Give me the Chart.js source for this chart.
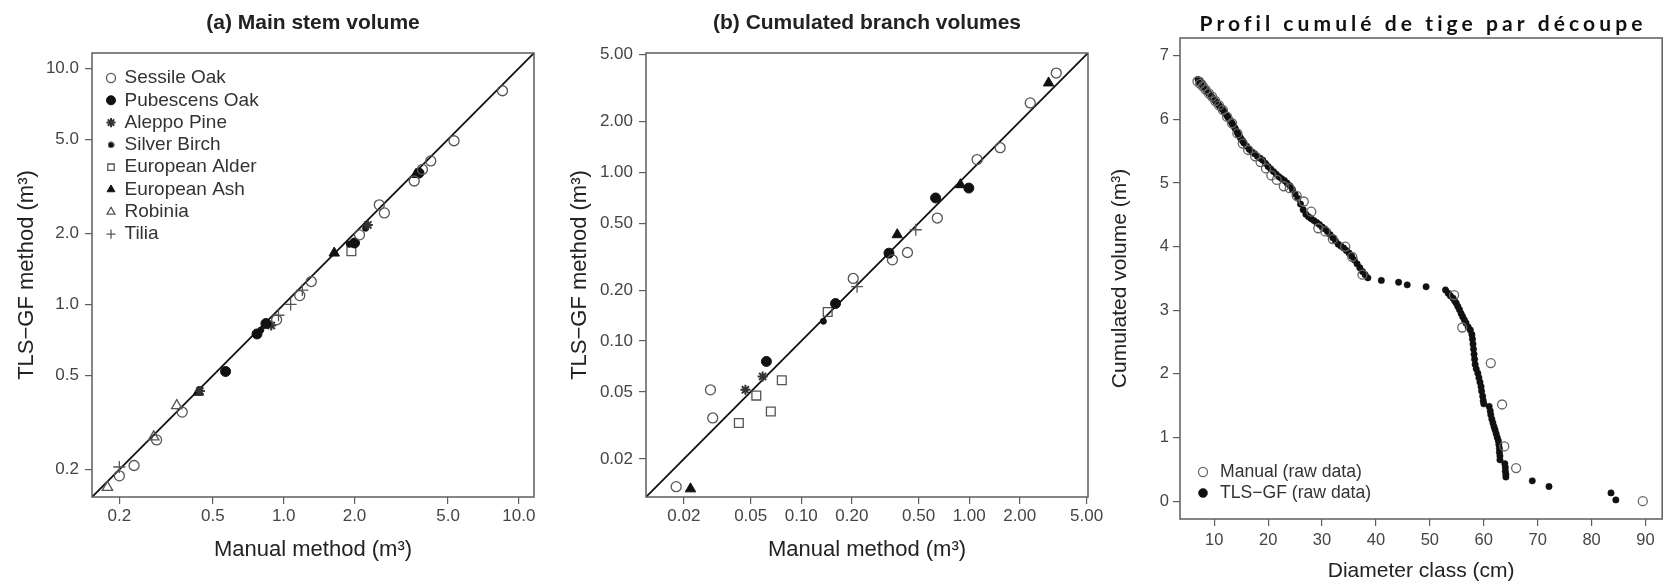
<!DOCTYPE html>
<html>
<head>
<meta charset="utf-8">
<script src="https://cdn.jsdelivr.net/npm/chart.js@4.4.1/dist/chart.umd.min.js"></script>
<style>
  body { margin: 0; background: #fff; width: 1668px; height: 585px; overflow: hidden; position: relative; }
  canvas { position: absolute; top: 0; }
</style>
</head>
<body>
<canvas id="chartA" width="560" height="585" style="left:0px"></canvas>
<canvas id="chartB" width="550" height="585" style="left:560px"></canvas>
<canvas id="chartC" width="563" height="585" style="left:1105px"></canvas>
<script>

  // ---------- data : [manual, TLS-GF] pairs ----------
  const speciesNames = ["Sessile Oak", "Pubescens Oak", "Aleppo Pine", "Silver Birch",
                        "European Alder", "European Ash", "Robinia", "Tilia"];

  // (a) main stem volume (m3)
  const sessileA   = [[0.20,0.188],[0.231,0.208],[0.288,0.267],[0.37,0.35],[0.933,0.861],[1.17,1.09],
                      [1.31,1.25],[2.1,1.97],[2.55,2.64],[2.68,2.44],[3.59,3.33],[3.89,3.73],[4.22,4.05],
                      [5.3,4.93],[8.52,8.03]];
  const pubescensA = [[0.566,0.52],[0.77,0.75],[0.84,0.83],[2.0,1.82],[3.76,3.6]];
  const aleppoA    = [[0.44,0.43],[0.885,0.815],[2.28,2.17]];
  const birchA     = [[0.8,0.78],[1.9,1.8],[2.23,2.1]];
  const alderA     = [[1.94,1.68]];
  const ashA       = [[0.433,0.425],[1.64,1.65],[3.65,3.55]];
  const robiniaA   = [[0.178,0.168],[0.28,0.275],[0.351,0.373]];
  const tiliaA     = [[0.2,0.205],[0.95,0.90],[1.07,1.0],[1.2,1.15]];

  // (b) cumulated branch volumes (m3)
  const sessileB   = [[0.018,0.0137],[0.0288,0.0514],[0.0297,0.035],[0.204,0.235],[0.349,0.303],
                      [0.429,0.335],[0.646,0.536],[1.115,1.19],[1.53,1.40],[2.31,2.58],[3.30,3.88]];
  const pubescensB = [[0.062,0.0757],[0.160,0.1668],[0.333,0.332],[0.631,0.705],[0.995,0.807]];
  const aleppoB    = [[0.0465,0.0514],[0.0589,0.0617]];
  const birchB     = [[0.1355,0.131]];
  const alderB     = [[0.0425,0.0327],[0.054,0.0475],[0.0659,0.0382],[0.0766,0.0585],[0.1437,0.1486]];
  const ashB       = [[0.0219,0.0133],[0.373,0.427],[0.887,0.845],[2.97,3.39]];
  const robiniaB   = [];
  const tiliaB     = [[0.215,0.21],[0.481,0.457]];

  // axis ranges / ticks
  const rangeA = [0.153, 11.6];
  const rangeB = [0.0119, 5.1];
  const ticksA = [0.2, 0.5, 1, 2, 5, 10];
  const ticksB = [0.02, 0.05, 0.1, 0.2, 0.5, 1, 2, 5];

  // (c) cumulated stem profile : diameter class (cm) / cumulated volume (m3)
  const manualProfile = [[6.9,6.60],[7.4,6.56],[7.9,6.52],[8.4,6.47],[9.0,6.41],[9.6,6.36],[10.2,6.29],
    [10.9,6.22],[11.6,6.15],[12.4,6.04],[13.3,5.94],[14.3,5.78],[15.3,5.62],[16.3,5.52],[17.6,5.42],
    [18.6,5.33],[19.6,5.23],[20.6,5.12],[21.6,5.05],[22.9,4.95],[24.0,4.92],[25.3,4.80],[26.6,4.71],
    [28.0,4.55],[29.3,4.29],[30.6,4.24],[32.0,4.12],[34.3,4.00],[35.6,3.84],[37.5,3.56],[54.5,3.24],
    [56.0,2.73],[61.3,2.17],[63.4,1.52],[63.8,0.86],[66.0,0.52],[89.5,0.00]];
  const tlsProfile = [[7.0,6.63],[7.2,6.58],[7.4,6.61],[7.6,6.55],[7.8,6.57],[8.0,6.51],[8.3,6.49],
    [8.5,6.46],[8.8,6.43],[9.0,6.41],[9.3,6.38],[9.5,6.36],[9.8,6.33],[10.0,6.31],[10.3,6.28],[10.5,6.26],
    [10.8,6.23],[11.0,6.21],[11.3,6.18],[11.5,6.16],[11.8,6.13],[12.0,6.10],[12.3,6.07],[12.5,6.04],
    [12.8,6.01],[13.0,5.98],[13.3,5.94],[13.5,5.91],[13.8,5.87],[14.0,5.84],[14.3,5.79],[14.5,5.76],
    [14.8,5.72],[15.0,5.69],[15.3,5.66],[15.5,5.63],[16.0,5.58],[16.5,5.53],[17.0,5.49],[17.5,5.46],
    [18.0,5.42],[18.5,5.39],[19.0,5.36],[19.5,5.31],[20.0,5.26],[20.5,5.22],[21.0,5.18],[21.5,5.14],
    [22.0,5.10],[22.5,5.07],[23.0,5.04],[23.5,5.00],[24.0,4.96],[24.5,4.90],[25.0,4.83],[25.5,4.76],
    [26.0,4.67],[26.5,4.58],[27.0,4.51],[27.5,4.47],[28.0,4.44],[28.5,4.41],[29.0,4.38],[29.5,4.35],
    [30.0,4.31],[30.5,4.28],[31.0,4.24],[31.5,4.19],[32.0,4.14],[32.5,4.09],[33.0,4.04],[33.5,4.01],
    [34.0,3.98],[34.5,3.94],[35.0,3.90],[35.5,3.85],[36.0,3.79],[36.5,3.73],[37.0,3.67],[37.5,3.61],
    [38.0,3.56],[38.5,3.51],[41.0,3.47],[44.2,3.44],[45.8,3.40],[49.3,3.37],[52.9,3.32],[53.4,3.27],
    [53.8,3.23],[54.3,3.19],[54.6,3.15],[54.9,3.11],[55.2,3.06],[55.5,3.01],[55.8,2.95],[56.1,2.90],
    [56.4,2.85],[56.7,2.80],[57.1,2.74],[57.5,2.69],[57.8,2.62],[57.9,2.55],[58.0,2.47],[58.1,2.39],
    [58.2,2.31],[58.3,2.23],[58.4,2.15],[58.6,2.08],[58.9,2.01],[59.1,1.94],[59.3,1.87],[59.5,1.80],
    [59.6,1.73],[59.8,1.65],[59.9,1.58],[60.0,1.53],[61.0,1.49],[61.2,1.42],[61.3,1.36],[61.5,1.29],
    [61.7,1.23],[61.9,1.17],[62.1,1.12],[62.3,1.06],[62.5,1.00],[62.7,0.95],[62.8,0.89],[62.9,0.83],
    [62.9,0.77],[63.0,0.71],[63.0,0.65],[63.9,0.59],[64.0,0.53],[64.0,0.47],[64.1,0.42],[64.1,0.38],
    [69.0,0.32],[72.1,0.23],[83.6,0.13],[84.5,0.02]];
  const rangeCx = [3.65, 93.1];
  const rangeCy = [-0.28, 7.28];
  const ticksCx = [10, 20, 30, 40, 50, 60, 70, 80, 90];
  const ticksCy = [0, 1, 2, 3, 4, 5, 6, 7];

  // ---------- look ----------
  const FONT = "'Liberation Sans', Arial, sans-serif";
  const AXIS_GREY = "#5e5e5e";
  const TICK_COL = "#444";
  const TEXT_COL = "#222";
  const OPEN = "rgba(0,0,0,0)";

  // R pch symbols -> chart.js point styles
  const speciesStyle = [
    { pointStyle: "circle",   radius: 5,   bg: OPEN,   fg: "#555", w: 1.3 },
    { pointStyle: "circle",   radius: 5,   bg: "#111", fg: "#111", w: 1 },
    { pointStyle: "star",     radius: 5,   bg: "#333", fg: "#333", w: 2 },
    { pointStyle: "circle",   radius: 3,   bg: "#111", fg: "#111", w: 1 },
    { pointStyle: "rect",     radius: 6.2, bg: OPEN,   fg: "#555", w: 1.3 },
    { pointStyle: "triangle", radius: 6,   bg: "#111", fg: "#111", w: 1 },
    { pointStyle: "triangle", radius: 6,   bg: OPEN,   fg: "#555", w: 1.3 },
    { pointStyle: "cross",    radius: 6,   bg: OPEN,   fg: "#555", w: 1.3 }
  ];

  function toXY(pairs) { return pairs.map(p => ({ x: p[0], y: p[1] })); }

  // small dot used for the Silver Birch legend key (pch 20 is smaller)
  const smallDot = document.createElement("canvas");
  smallDot.width = 7; smallDot.height = 7;
  (function () {
    const c = smallDot.getContext("2d");
    c.fillStyle = "#111"; c.beginPath(); c.arc(3.5, 3.5, 3, 0, Math.PI * 2); c.fill();
  })();

  /**===================================================
   *   plot frame (R box())
   ===================================================*/
  const boxPlugin = {
    id: "plotBox",
    afterDatasetsDraw(chart) {
      const a = chart.chartArea, ctx = chart.ctx;
      ctx.save();
      ctx.strokeStyle = AXIS_GREY;
      ctx.lineWidth = 1.5;
      ctx.strokeRect(a.left, a.top, a.right - a.left, a.bottom - a.top);
      ctx.restore();
    }
  };

  // put the chartArea legend where R put it
  function legendAt(left, top) {
    return {
      id: "legendAt",
      afterLayout(chart) {
        const lg = chart.legend;
        lg.left = left; lg.top = top;
        lg.right = left + lg.width; lg.bottom = chart.height;
      }
    };
  }

  /**===================================================
   *   axis builder
   ===================================================*/
  function axis(type, pos, range, tickValues, fmt, title, titlePad, size, fontSize, titleSize, labelPad) {
    return {
      type: type, position: pos, min: range[0], max: range[1],
      afterBuildTicks: s => { s.ticks = tickValues.map(v => ({ value: v })); },
      afterFit: s => { if (pos === "left") s.width = size; else s.height = size; },
      ticks: { autoSkip: false, maxRotation: 0, minRotation: 0, color: TICK_COL, padding: labelPad,
               font: { family: FONT, size: fontSize }, callback: v => fmt(v) },
      grid: { drawOnChartArea: false, drawTicks: true, tickLength: 7, color: AXIS_GREY, lineWidth: 1.2 },
      border: { display: false },
      title: { display: true, text: title, color: TEXT_COL, font: { family: FONT, size: titleSize },
               padding: pos === "left" ? { top: titlePad, bottom: 0 } : { top: 0, bottom: titlePad } }
    };
  }

  /**===================================================
   *   (a) and (b) : log-log scatter with 1:1 line
   ===================================================*/
  function drawComparison(canvasId, titleText, seriesList, range, tickValues, digits, yWidth, padRight, yTitlePad) {
    const datasets = seriesList.map((pairs, i) => {
      const st = speciesStyle[i];
      return {
        label: speciesNames[i], data: toXY(pairs),
        pointStyle: st.pointStyle, pointRadius: st.radius,
        backgroundColor: st.bg, borderColor: st.fg, borderWidth: st.w
      };
    });
    datasets.push({
      label: "", type: "line", showLine: true, pointRadius: 0,
      data: [{ x: range[0], y: range[0] }, { x: range[1], y: range[1] }],
      borderColor: "#111", borderWidth: 1.8
    });

    const fmt = v => Number(v).toFixed(digits);
    return new Chart(document.getElementById(canvasId), {
      type: "scatter",
      data: { datasets: datasets },
      options: {
        responsive: false, animation: false, devicePixelRatio: 1,
        layout: { padding: { left: 0, top: 0, right: padRight, bottom: 0 } },
        scales: {
          x: axis("logarithmic", "bottom", range, tickValues, fmt, "Manual method (m³)", 21.8, 88, 17, 22, 2),
          y: axis("logarithmic", "left", range, tickValues, fmt, "TLS−GF method (m³)", yTitlePad, yWidth, 17, 22, 6)
        },
        plugins: {
          title: { display: true, text: titleText, fullSize: false, color: TEXT_COL,
                   font: { family: FONT, size: 21, weight: "bold" }, padding: { top: 10.4, bottom: 17.4 } },
          legend: { display: canvasId === "chartA", position: "chartArea", align: "start",
                    labels: { usePointStyle: true, boxWidth: 8, boxHeight: 6.4, padding: 3.3, color: "#333",
                              font: { family: FONT, size: 19 },
                              filter: it => it.text !== "",
                              generateLabels: chart => {
                                const items = Chart.defaults.plugins.legend.labels.generateLabels(chart);
                                items.forEach(it => { if (it.text === "Silver Birch") it.pointStyle = smallDot; });
                                return items;
                              } } },
          tooltip: { enabled: false }
        }
      },
      plugins: [boxPlugin, legendAt(103.7, 65.2)]
    });
  }

  drawComparison("chartA", "(a) Main stem volume",
    [sessileA, pubescensA, aleppoA, birchA, alderA, ashA, robiniaA, tiliaA],
    rangeA, ticksA, 1, 92, 26, 13.8);

  drawComparison("chartB", "(b) Cumulated branch volumes",
    [sessileB, pubescensB, aleppoB, birchB, alderB, ashB, robiniaB, tiliaB],
    rangeB, ticksB, 2, 86, 22, 6.8);

  /**===================================================
   *   (c) cumulated stem profile
   ===================================================*/
  const TITLE_C = "Profil cumulé de tige par découpe";
  const spacedTitle = {
    id: "spacedTitle",
    afterDraw(chart) {
      const ctx = chart.ctx, target = 443, cx = 316;
      ctx.save();
      ctx.font = "bold 21px Lato, 'Open Sans', sans-serif";
      ctx.fillStyle = "#111";
      ctx.textBaseline = "middle";
      ctx.textAlign = "left";
      ctx.letterSpacing = "0px";
      const plain = ctx.measureText(TITLE_C).width;
      const gap = (target - plain) / (TITLE_C.length - 1);
      ctx.letterSpacing = gap + "px";
      ctx.fillText(TITLE_C, cx - target / 2, 24);
      ctx.restore();
    }
  };

  new Chart(document.getElementById("chartC"), {
    type: "scatter",
    data: {
      datasets: [
        { label: "Manual (raw data)", data: toXY(manualProfile), pointStyle: "circle", pointRadius: 4.5,
          backgroundColor: OPEN, borderColor: "#666", borderWidth: 1.3 },
        { label: "TLS−GF (raw data)", data: toXY(tlsProfile), pointStyle: "circle", pointRadius: 3.2,
          backgroundColor: "#111", borderColor: "#111", borderWidth: 0.5 }
      ]
    },
    options: {
      responsive: false, animation: false, devicePixelRatio: 1,
      layout: { padding: { left: 0, top: 38, right: 2, bottom: 0 } },
      scales: {
        x: axis("linear", "bottom", rangeCx, ticksCx, v => String(v), "Diameter class (cm)", 1.4, 66, 16.5, 21, 5),
        y: axis("linear", "left", rangeCy, ticksCy, v => String(v), "Cumulated volume (m³)", 2.4, 75, 16.5, 21, 4)
      },
      plugins: {
        legend: { position: "chartArea", align: "start",
                  labels: { usePointStyle: true, boxWidth: 16.4, boxHeight: 6.4, padding: 3.4, color: "#333",
                            font: { family: FONT, size: 17.6 } } },
        tooltip: { enabled: false }
      }
    },
    plugins: [boxPlugin, legendAt(86.4, 459.8), spacedTitle]
  });

</script>
</body>
</html>
